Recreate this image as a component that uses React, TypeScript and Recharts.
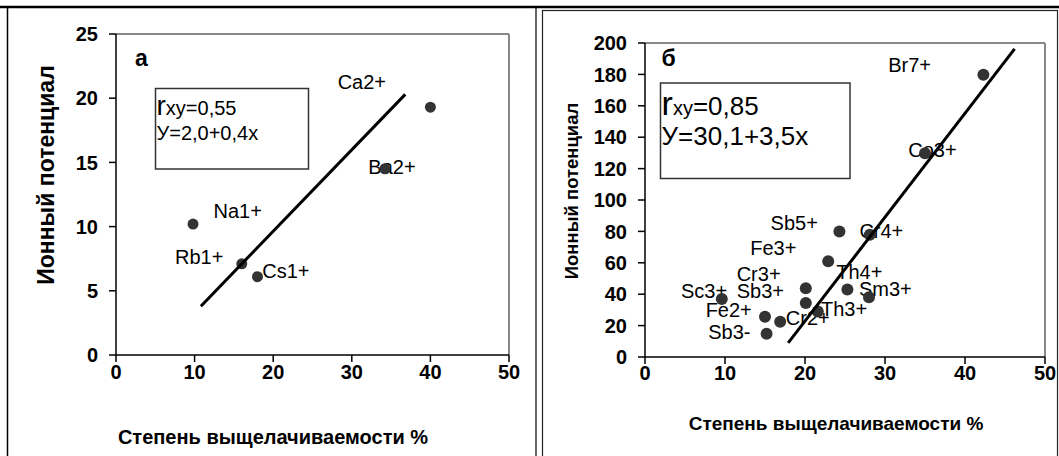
import React from 'react'
import { ScatterChart, Scatter, XAxis, YAxis, ReferenceLine } from 'recharts'

// panel а
const ionsA = ['Na1+', 'Ca2+', 'Ba2+', 'Rb1+', 'Cs1+']
const leachA = [9.8, 40, 34.2, 16, 18]
const potentialA = [10.2, 19.3, 14.5, 7.1, 6.1]
// where the ion names sit (left end of text, baseline), in axis units
const labelXA = [12.4, 28.2, 32.1, 7.5, 18.6]
const labelYA = [10.7, 20.7, 14.1, 7.1, 6.0]
const trendXA = [10.8, 36.8]
const trendYA = [3.8, 20.3]
const ticksXA = [0, 10, 20, 30, 40, 50]
const ticksYA = [0, 5, 10, 15, 20, 25]

// panel б
const ionsB = ['Br7+', 'Co3+', 'Sb5+', 'Cr4+', 'Fe3+', 'Th4+', 'Sm3+', 'Cr3+', 'Sb3+', 'Th3+', 'Cr2+', 'Sc3+', 'Fe2+', 'Sb3-']
const leachB = [42.3, 35.0, 24.3, 28.1, 22.9, 25.3, 28.0, 20.1, 20.1, 21.6, 16.9, 9.6, 15.0, 15.2]
const potentialB = [179.8, 129.8, 80, 77.8, 61, 43, 38, 43.8, 34.4, 29, 22.5, 36.9, 25.6, 14.8]
const labelXB = [30.4, 32.9, 15.7, 26.8, 13.15, 23.9, 26.75, 11.46, 11.46, 22.0, 17.6, 4.5, 7.58, 7.9]
const labelYB = [181.3, 127.7, 81, 75.5, 64.8, 49.8, 39, 48.7, 37.4, 26.2, 20.4, 37.4, 25.6, 11.2]
const trendXB = [17.9, 46.2]
const trendYB = [9.0, 196.3]
const ticksXB = [0, 10, 20, 30, 40, 50]
const ticksYB = [0, 20, 40, 60, 80, 100, 120, 140, 160, 180, 200]

const FONT = "Arial, 'Liberation Sans', sans-serif"

const zip = (xs: number[], ys: number[], names?: string[]) =>
  xs.map((x, i) => ({ x, y: ys[i], name: names ? names[i] : '' }))

const dotShape = (r: number) => (p: any) => <circle cx={p.cx} cy={p.cy} r={r} fill="#333333" />

const textShape = (p: any) => (
  <text x={p.cx} y={p.cy} fontSize={20} fontFamily={FONT} fill="#000">
    {p.payload?.name ?? p.name}
  </text>
)

interface PanelProps {
  width: number
  height: number
  margin: { top: number; right: number; bottom: number; left: number }
  xMax: number
  yMax: number
  ticksX: number[]
  ticksY: number[]
  points: { x: number; y: number; name: string }[]
  labels: { x: number; y: number; name: string }[]
  trend: { x: number; y: number; name: string }[]
  dotR: number
  xTickMargin: number
}

function Panel(p: PanelProps) {
  const tick = { fill: '#000', fontSize: 20, fontWeight: 700, fontFamily: FONT }
  return (
    <ScatterChart width={p.width} height={p.height} margin={p.margin}>
      <XAxis
        type="number"
        dataKey="x"
        domain={[0, p.xMax]}
        ticks={p.ticksX}
        tick={tick}
        tickSize={7}
        tickMargin={p.xTickMargin}
        height={30}
        axisLine={{ stroke: '#000', strokeWidth: 1.5 }}
        tickLine={{ stroke: '#000', strokeWidth: 1.5 }}
      />
      <YAxis
        type="number"
        dataKey="y"
        domain={[0, p.yMax]}
        ticks={p.ticksY}
        tick={tick}
        tickSize={7}
        tickMargin={11}
        width={60}
        axisLine={{ stroke: '#000', strokeWidth: 1.5 }}
        tickLine={{ stroke: '#000', strokeWidth: 1.5 }}
      />
      <ReferenceLine y={p.yMax} stroke="#888" strokeWidth={2} />
      <ReferenceLine x={p.xMax} stroke="#888" strokeWidth={2} />
      <Scatter data={p.labels} shape={textShape} isAnimationActive={false} />
      <Scatter data={p.points} shape={dotShape(p.dotR)} isAnimationActive={false} />
      <Scatter
        data={p.trend}
        line={{ stroke: '#000', strokeWidth: 3 }}
        shape={() => <g />}
        isAnimationActive={false}
      />
    </ScatterChart>
  )
}

export default function App() {
  return (
    <div style={{ position: 'absolute', left: 0, top: 0, width: 1059, height: 456, background: '#fff', overflow: 'hidden' }}>
      <div style={{ position: 'absolute', left: 0, top: 0 }}>
        <Panel
          width={530}
          height={456}
          margin={{ top: 34, right: 21, bottom: 71, left: 56 }}
          xMax={50}
          yMax={25}
          ticksX={ticksXA}
          ticksY={ticksYA}
          points={zip(leachA, potentialA, ionsA)}
          labels={zip(labelXA, labelYA, ionsA)}
          trend={zip(trendXA, trendYA)}
          dotR={5.5}
          xTickMargin={3}
        />
      </div>
      <div style={{ position: 'absolute', left: 530, top: 0 }}>
        <Panel
          width={529}
          height={456}
          margin={{ top: 43, right: 14, bottom: 69, left: 55 }}
          xMax={50}
          yMax={200}
          ticksX={ticksXB}
          ticksY={ticksYB}
          points={zip(leachB, potentialB, ionsB)}
          labels={zip(labelXB, labelYB, ionsB)}
          trend={zip(trendXB, trendYB)}
          dotR={6}
          xTickMargin={2}
        />
      </div>
      <svg width={1059} height={456} style={{ position: 'absolute', left: 0, top: 0, pointerEvents: 'none' }} fontFamily={FONT}>
        {/* frame of the page */}
        <line x1={0} y1={7} x2={1059} y2={7} stroke="#000" strokeWidth={2.5} />
        <line x1={7.5} y1={8} x2={7.5} y2={456} stroke="#000" strokeWidth={1.5} />
        <line x1={536} y1={8} x2={536} y2={456} stroke="#000" strokeWidth={1.2} />
        <rect x={542.5} y={10.5} width={515} height={460} fill="none" stroke="#222" strokeWidth={1.2} />

        {/* panel а */}
        <text x={135} y={65.5} fontSize={23} fontWeight={700}>а</text>
        <rect x={155.5} y={88.5} width={153} height={80.5} fill="#fff" stroke="#333" strokeWidth={1.5} />
        <text x={156.5} y={115.3} fill="#000">
          <tspan fontSize={28}>r</tspan>
          <tspan fontSize={20}>xy=0,55</tspan>
        </text>
        <text x={156.5} y={140} fontSize={20} fill="#000">У=2,0+0,4х</text>
        <text x={273} y={444} fontSize={20} fontWeight={700} textAnchor="middle">Степень выщелачиваемости %</text>
        <text transform="translate(54,175) rotate(-90)" fontSize={23} fontWeight={700} textAnchor="middle">Ионный потенциал</text>

        {/* panel б */}
        <text x={661.5} y={65.5} fontSize={23} fontWeight={700}>б</text>
        <rect x={660.5} y={83} width={189.5} height={95.5} fill="#fff" stroke="#333" strokeWidth={1.5} />
        <text x={661.6} y={114.5} fill="#000">
          <tspan fontSize={34}>r</tspan>
          <tspan fontSize={20}>xy</tspan>
          <tspan fontSize={26}>=0,85</tspan>
        </text>
        <text x={661.6} y={144.8} fontSize={26} fill="#000">У=30,1+3,5х</text>
        <text x={836} y={430} fontSize={19} fontWeight={700} textAnchor="middle">Степень выщелачиваемости %</text>
        <text transform="translate(578,191) rotate(-90)" fontSize={18.5} fontWeight={700} textAnchor="middle">Ионный потенциал</text>
      </svg>
    </div>
  )
}
